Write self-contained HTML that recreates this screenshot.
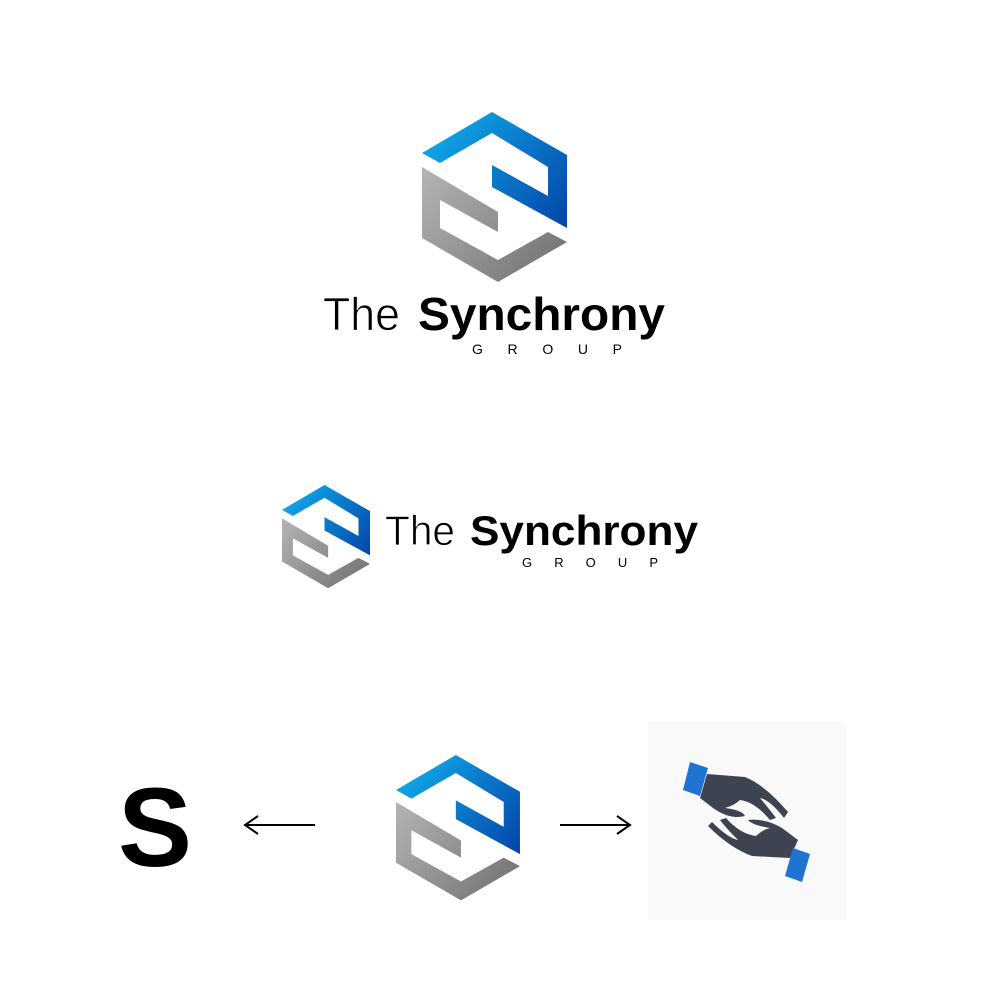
<!DOCTYPE html>
<html><head><meta charset="utf-8"><style>
html,body{margin:0;padding:0;background:#fff;}
svg{display:block;}
</style></head><body>
<svg width="1000" height="1000" viewBox="0 0 1000 1000" xmlns="http://www.w3.org/2000/svg">
<defs>
<linearGradient id="bl" x1="422" y1="112" x2="567" y2="228" gradientUnits="userSpaceOnUse">
<stop offset="0" stop-color="#12b4ef"/><stop offset="1" stop-color="#0344a8"/></linearGradient>
<linearGradient id="gr" x1="422" y1="167" x2="567" y2="282" gradientUnits="userSpaceOnUse">
<stop offset="0" stop-color="#b4b4b4"/><stop offset="1" stop-color="#6e6e6e"/></linearGradient>
<g id="logo">
<polygon fill="url(#bl)" points="422,153 492,112 567,155 567,228 492,187 492,165 548,196 548,167 492,133 440,163"/>
<polygon fill="url(#gr)" points="422,167 498,212 498,232 440,200 440,228 498,260 548,232 567,242 498,282 422,238"/>
</g>
</defs>
<use href="#logo"/>
<g font-family="'Liberation Sans',sans-serif" fill="#000">
<text x="323" y="330" font-size="46" textLength="77" lengthAdjust="spacingAndGlyphs" font-weight="300" stroke="#fff" stroke-width="0.8">The</text>
<text x="418" y="330" font-size="46" font-weight="bold" textLength="247" lengthAdjust="spacingAndGlyphs">Synchrony</text>
<text x="472" y="354" font-size="14" textLength="150" lengthAdjust="spacing">GROUP</text>
</g>
<use href="#logo" transform="translate(282,485) scale(0.607) translate(-422,-112)"/>
<g font-family="'Liberation Sans',sans-serif" fill="#000">
<text x="385" y="545" font-size="42" textLength="70" lengthAdjust="spacingAndGlyphs" stroke="#fff" stroke-width="0.8">The</text>
<text x="470" y="545" font-size="42" font-weight="bold" textLength="228" lengthAdjust="spacingAndGlyphs">Synchrony</text>
<text x="522" y="567" font-size="13" textLength="136" lengthAdjust="spacing">GROUP</text>
</g>
<use href="#logo" transform="translate(396,755) scale(0.855) translate(-422,-112)"/>
<text x="118" y="866" font-family="'Liberation Sans',sans-serif" font-size="112" font-weight="bold" textLength="74" lengthAdjust="spacingAndGlyphs">S</text>
<g stroke="#000" stroke-width="2" fill="none">
<line x1="245" y1="825" x2="315" y2="825"/><polyline points="258,816 245,825 258,834"/>
<line x1="560" y1="825" x2="630" y2="825"/><polyline points="617,816 630,825 617,834"/>
</g>
<rect x="648" y="722" width="198" height="198" fill="#f9f9f9"/>
<g fill="#3d4350">
<path d="M707,774 L745,777 Q765,785 788,812 L784,818 Q770,800 760,798 Q770,810 776,818 L770,820 Q755,802 740,800 Q735,805 725,808 Q742,810 745,816 Q730,820 713,808 L700,798 Z"/>
<path d="M790,858 L752,856 Q730,848 708,826 L712,822 Q728,838 738,840 Q726,828 720,820 L726,818 Q740,834 756,836 Q762,830 770,828 Q752,825 748,820 Q765,818 782,828 L798,840 Z"/>
</g>
<g fill="#1f73d2">
<polygon points="690,762 708,768 700,796 683,790"/>
<polygon points="793,848 810,854 802,882 785,876"/>
</g>
</svg>
</body></html>
